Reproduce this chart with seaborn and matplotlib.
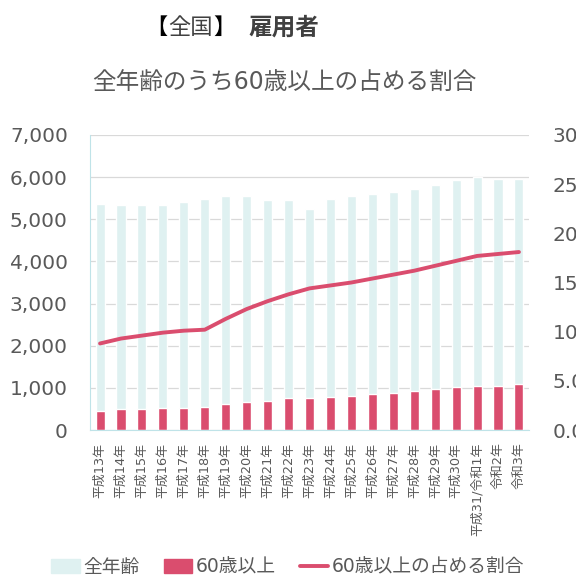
import numpy as np
import seaborn as sns
import matplotlib.pyplot as plt
from matplotlib.ticker import FuncFormatter
from matplotlib.patches import Patch
from matplotlib.lines import Line2D

# data
years = ['平成13年', '平成14年', '平成15年', '平成16年', '平成17年', '平成18年',
         '平成19年', '平成20年', '平成21年', '平成22年', '平成23年', '平成24年',
         '平成25年', '平成26年', '平成27年', '平成28年', '平成29年', '平成30年',
         '平成31/令和1年', '令和2年', '令和3年']
total = [5370, 5330, 5335, 5340, 5400, 5490, 5545, 5545, 5455, 5455, 5245,
         5490, 5545, 5610, 5640, 5730, 5815, 5925, 6005, 5965, 5965]
over60 = [450, 490, 490, 520, 520, 553, 608, 663, 695, 758, 758,
          790, 814, 845, 877, 932, 964, 1019, 1050, 1050, 1083]
ratio = [8.8, 9.3, 9.6, 9.9, 10.1, 10.2, 11.3, 12.3, 13.1, 13.8, 14.4,
         14.7, 15.0, 15.4, 15.8, 16.2, 16.7, 17.2, 17.7, 17.9, 18.1]

cyan = '#DFF1F1'
red = '#DA4D6E'
gray = '#595959'

sns.set_style('white')
plt.rcParams['font.family'] = ['DejaVu Sans', 'Noto Sans CJK JP']

fig = plt.figure(figsize=(5.76, 5.76), dpi=100)
ax = fig.add_axes([90/576, 1-430/576, (529-90)/576, (430-135)/576])

sns.barplot(x=years, y=total, color=cyan, width=0.43, ax=ax, saturation=1)
sns.barplot(x=years, y=over60, color=red, width=0.43, ax=ax, saturation=1)

ax.set_ylim(0, 7000)
ax.set_xlim(-0.48, 20.48)
ax.set_yticks(range(0, 7001, 1000))
ax.yaxis.set_major_formatter(FuncFormatter(lambda v, p: f'{int(v):,}'))
ax.grid(axis='y', color='#D9D9D9', lw=0.9)
ax.set_axisbelow(True)
ax.tick_params(axis='y', length=0, pad=16, labelsize=14.5, labelcolor=gray)
ax.tick_params(axis='x', length=0, pad=9, labelsize=9.3, labelcolor=gray)
ax.set_xticks(range(len(years)))
ax.set_xticklabels(years, rotation=90, va='top', ha='center')
for side in ['top', 'right']:
    ax.spines[side].set_visible(False)
ax.spines['left'].set_color('#BFE3E8')
ax.spines['bottom'].set_color('#BFE3E8')
ax.set_xlabel('')
ax.set_ylabel('')

ax2 = ax.twinx()
sns.lineplot(x=np.arange(len(years)), y=ratio, color=red, lw=2.8, ax=ax2)
ax2.set_ylim(0, 30)
ax2.set_yticks(range(0, 31, 5))
ax2.yaxis.set_major_formatter(FuncFormatter(lambda v, p: f'{v:.1f}'))
ax2.tick_params(axis='y', length=0, pad=17, labelsize=14.5, labelcolor=gray)
for side in ['top', 'right', 'left', 'bottom']:
    ax2.spines[side].set_visible(False)
ax2.set_ylabel('')

# title: 【全国】 雇用者
ty = 1 - 28/576
fig.text(168/576, ty, '【', ha='right', va='center', fontsize=16, color='black')
fig.text(190/576, ty, '全国', ha='center', va='center', fontsize=16, color='#404040')
fig.text(213/576, ty, '】', ha='left', va='center', fontsize=16, color='black')
fig.text(248/576, ty, '雇用者', ha='left', va='center', fontsize=17,
         fontweight='bold', color='#404040')
fig.text(284/576, 1-82/576, '全年齢のうち60歳以上の占める割合', ha='center', va='center',
         fontsize=17, color=gray)

handles = [Patch(color=cyan), Patch(color=red), Line2D([], [], color=red, lw=2.8)]
labels = ['全年齢', '60歳以上', '60歳以上の占める割合']
fig.legend(handles, labels, loc='center', bbox_to_anchor=(0.5, 1-567/576), ncol=3,
           frameon=False, fontsize=13.5, labelcolor=gray, handlelength=1.5,
           handletextpad=0.2, columnspacing=1.3)

fig.savefig('out.png', dpi=100)
